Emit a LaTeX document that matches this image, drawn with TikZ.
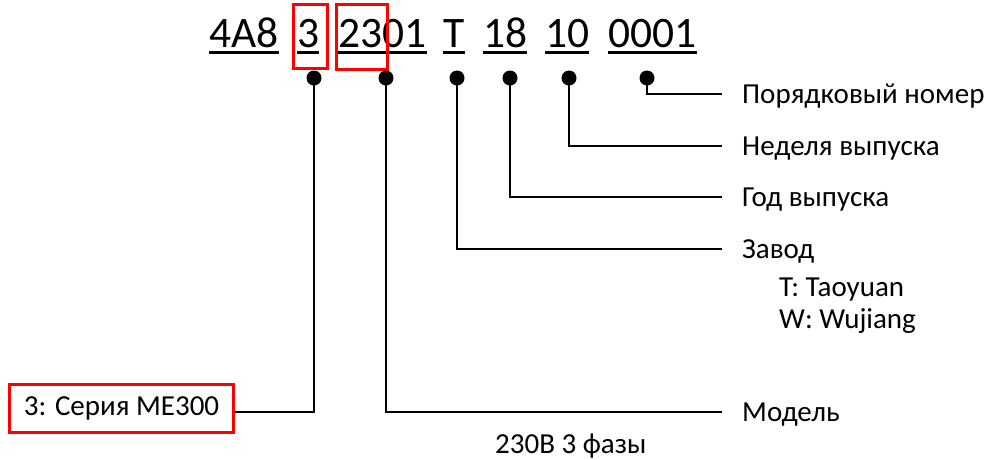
\documentclass[tikz,border=0pt]{standalone}
\usepackage{fontspec}
\setmainfont{Carlito}
\begin{document}
\begin{tikzpicture}[x=1pt,y=-1pt,
  code/.style={font=\fontsize{43.5}{44}\selectfont, inner sep=0pt, anchor=base west},
  lbl/.style={font=\fontsize{29}{34}\selectfont, inner sep=0pt, anchor=base west},
  dotc/.style={circle, fill=black, inner sep=0pt, minimum size=15pt},
  wire/.style={line width=1.8pt},
  uline/.style={line width=3pt},
  redbox/.style={draw=red, line width=3pt}]
\useasboundingbox (0,0) rectangle (989,459);
% code parts
\node[code] (c1) at (209,47) {4A8};
\node[code] (c2) at (297,47) {3};
\node[code] (c3) at (338,47) {2301};
\node[code] (c4) at (443,47) {T};
\node[code] (c5) at (483,47) {18};
\node[code] (c6) at (545,47) {10};
\node[code] (c7) at (608,47) {0001};
\foreach \n in {c1,c2,c3,c4,c5,c6,c7}{
  \draw[uline] ([yshift=-5.5pt]\n.base west) -- ([yshift=-5.5pt]\n.base east);
}
% red highlight boxes
\draw[redbox] (293,4) rectangle (327,68);
\draw[redbox] (336,4) rectangle (387,69);
% dots
\node[dotc] (d1) at (314,78) {};
\node[dotc] (d2) at (386,78) {};
\node[dotc] (d3) at (457,78) {};
\node[dotc] (d4) at (510,78) {};
\node[dotc] (d5) at (569,78) {};
\node[dotc] (d6) at (647,78) {};
% labels
\node[lbl] (l1) at (742,103) {Порядковый номер};
\node[lbl] (l2) at (742,155) {Неделя выпуска};
\node[lbl] (l3) at (742,206) {Год выпуска};
\node[lbl] (l4) at (742,258) {Завод};
\node[lbl] (l4a) at (779,296) {T: Taoyuan};
\node[lbl] (l4b) at (779,328) {W: Wujiang};
\node[lbl] (l5) at (742,421) {Модель};
\node[lbl] (l6) at (495,453) {230В 3 фазы};
\coordinate (e1) at (722,94);
\coordinate (e2) at (722,146);
\coordinate (e3) at (722,197);
\coordinate (e4) at (722,249);
\coordinate (e5) at (722,412);
% series box
\node[redbox, anchor=west, minimum height=48pt, minimum width=224pt, inner sep=0pt,
  font=\fontsize{29}{34}\selectfont] (box) at (8,408) {3: Серия ME300};
% connectors
\draw[wire] (d6.center) |- (e1);
\draw[wire] (d5.center) |- (e2);
\draw[wire] (d4.center) |- (e3);
\draw[wire] (d3.center) |- (e4);
\draw[wire] (d2.center) |- (e5);
\draw[wire] (d1.center) |- ([yshift=-4pt]box.east);
\end{tikzpicture}
\end{document}
